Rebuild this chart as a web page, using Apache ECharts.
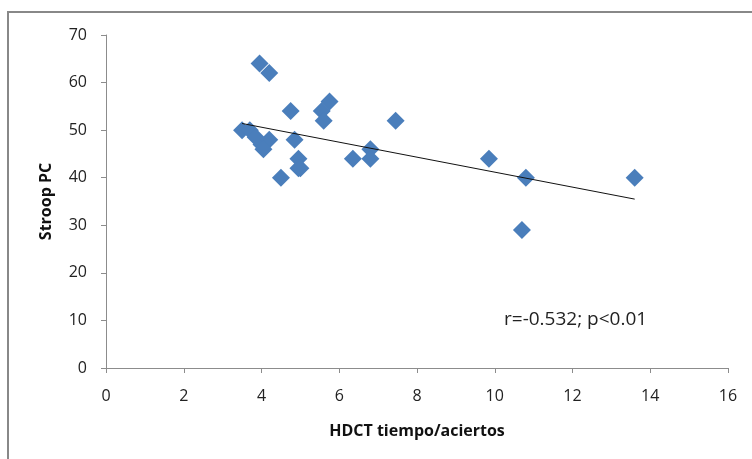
<!DOCTYPE html>
<html>
<head>
<meta charset="utf-8">
<script src="https://cdn.jsdelivr.net/npm/echarts@6/dist/echarts.min.js"></script>
<style>html,body{margin:0;padding:0;background:#fff}#c{width:752px;height:459px}</style>
</head>
<body>
<div id="c"></div>
<script>
var xValues = [3.5, 3.7, 3.85, 4.0, 4.2, 4.05, 3.95, 4.2, 4.5, 4.75, 4.85, 4.95, 4.95, 5.0, 5.55, 5.6, 5.75, 6.35, 6.8, 6.8, 7.45, 9.85, 10.7, 10.8, 13.6];
var yValues = [50, 50, 48.5, 47, 48, 46, 64, 62, 40, 54, 48, 44, 42, 42, 54, 52, 56, 44, 46, 44, 52, 44, 29, 40, 40];
var trendX = [3.5, 13.6];
var trendY = [51.4, 35.5];
var xTicks = [0, 16, 2];
var yTicks = [0, 70, 10];
var xTitle = 'HDCT tiempo/aciertos';
var yTitle = 'Stroop PC';
var note = 'r=-0.532; p<0.01';

var pts = xValues.map(function (x, i) { return [x, yValues[i]]; });
var trend = trendX.map(function (x, i) { return [x, trendY[i]]; });
var font = 'Open Sans, Noto Sans, sans-serif';
var chart = echarts.init(document.getElementById('c'), null, { renderer: 'canvas' });
chart.setOption({
  animation: false,
  backgroundColor: '#fff',
  grid: { left: 106, right: 24, top: 35, bottom: 91 },
  xAxis: {
    type: 'value', min: xTicks[0], max: xTicks[1], interval: xTicks[2],
    name: xTitle, nameLocation: 'middle', nameGap: 55,
    nameTextStyle: { fontFamily: font, fontWeight: 'bold', fontSize: 16, color: '#111' },
    axisLine: { lineStyle: { color: '#8c8c8c', width: 1 } },
    axisTick: { show: true, length: 5, lineStyle: { color: '#8c8c8c' } },
    axisLabel: { fontFamily: font, fontSize: 16, color: '#222', margin: 20 },
    splitLine: { show: false }
  },
  yAxis: {
    type: 'value', min: yTicks[0], max: yTicks[1], interval: yTicks[2],
    name: yTitle, nameLocation: 'middle', nameGap: 52, nameRotate: 90,
    nameTextStyle: { fontFamily: font, fontWeight: 'bold', fontSize: 16, color: '#111' },
    axisLine: { show: true, lineStyle: { color: '#8c8c8c', width: 1 } },
    axisTick: { show: true, length: 5, lineStyle: { color: '#8c8c8c' } },
    axisLabel: { fontFamily: font, fontSize: 16, color: '#222', margin: 19 },
    splitLine: { show: false }
  },
  graphic: [
    { type: 'rect', shape: { x: 8, y: 12, width: 900, height: 600 },
      style: { fill: 'none', stroke: '#888', lineWidth: 2 }, silent: true },
    { type: 'text', left: 504, top: 310,
      style: { text: note, fontFamily: font, fontSize: 19, fill: '#222' } }
  ],
  series: [
    { type: 'line', data: trend, showSymbol: false, symbol: 'none',
      lineStyle: { color: '#111', width: 1 }, z: 3 },
    { type: 'scatter', data: pts, symbol: 'diamond', symbolSize: 18,
      itemStyle: { color: '#4a7ebb', opacity: 1 }, z: 2 }
  ]
});
</script>
</body>
</html>
